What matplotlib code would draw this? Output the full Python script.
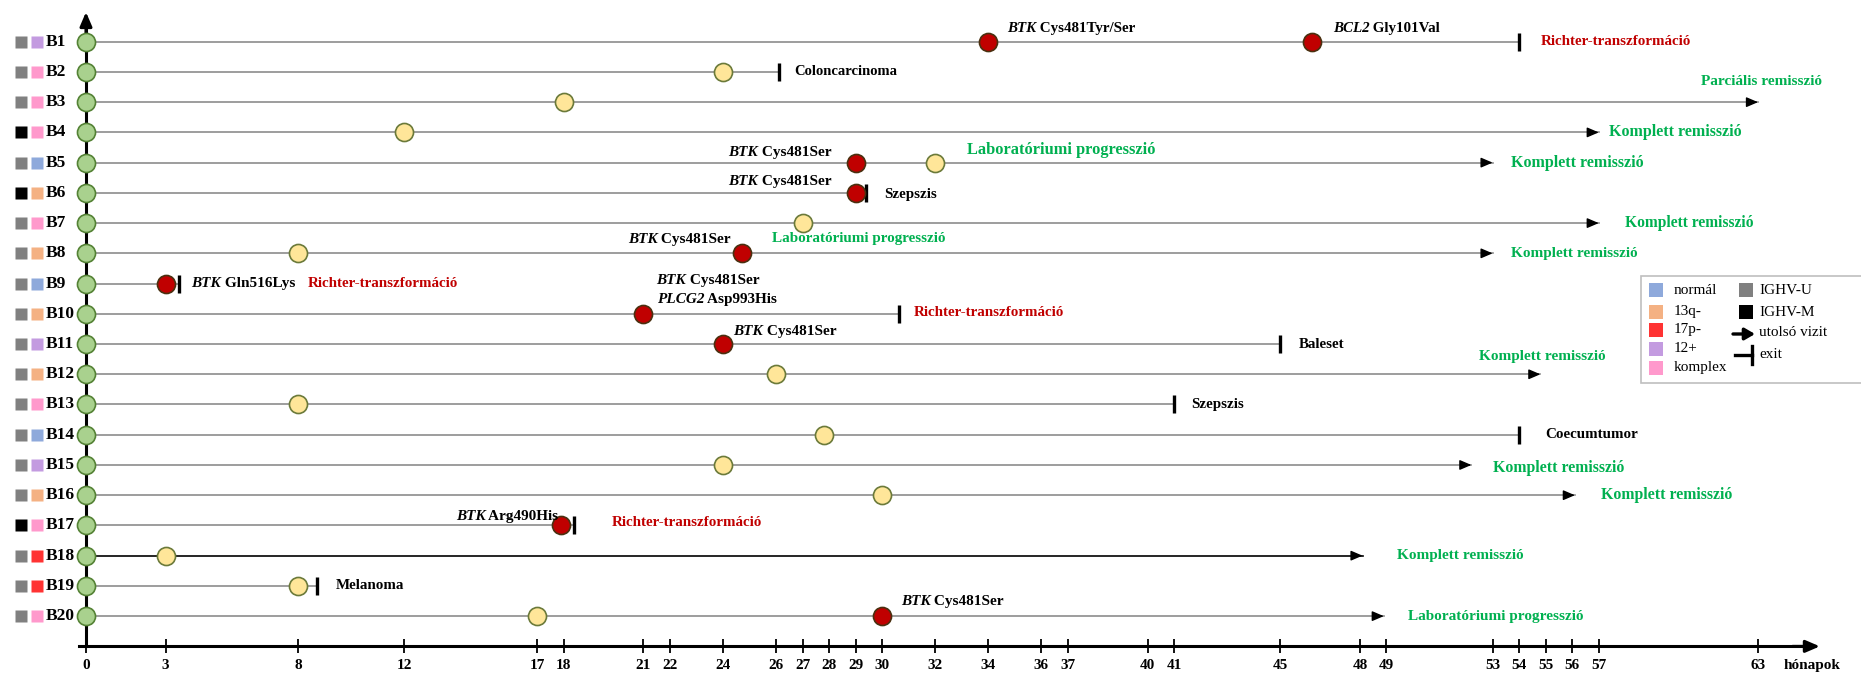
import matplotlib
matplotlib.use('Agg')
import matplotlib.pyplot as plt
from matplotlib.patches import Rectangle

plt.rcParams['font.family'] = ['Liberation Serif', 'DejaVu Serif']

# betegek, IGHV státusz és citogenetika
patients = ['B%d' % i for i in range(1, 21)]
ighv = ['U', 'U', 'U', 'M', 'U', 'M', 'U', 'U', 'U', 'U',
        'U', 'U', 'U', 'U', 'U', 'U', 'M', 'U', 'U', 'U']
cyto = ['12+', 'komplex', 'komplex', 'komplex', 'normál', '13q-', 'komplex', '13q-', 'normál', '13q-',
        '12+', '13q-', 'komplex', 'normál', '12+', '13q-', 'komplex', '17p-', '17p-', 'komplex']

# követés vége (hónap) és típusa
end_month = [54, 26.1, 63, 57, 53, 29.4, 57, 53, 3.5, 30.65,
             45, 54.8, 41, 54, 52.2, 56.1, 18.4, 48.1, 8.7, 48.9]
end_type = ['exit', 'exit', 'vizit', 'vizit', 'vizit', 'exit', 'vizit', 'vizit', 'exit', 'exit',
            'exit', 'vizit', 'exit', 'exit', 'vizit', 'vizit', 'exit', 'vizit', 'exit', 'vizit']

# sárga pontok (beteg sorszáma, hónap)
yellow_rows = [2, 3, 4, 5, 7, 8, 12, 13, 14, 15, 16, 18, 19, 20]
yellow_month = [24, 18, 12, 32, 27, 8, 26, 8, 27.8, 24, 30, 3, 8, 17]

# mutációk megjelenése (piros pontok)
mut_rows = [1, 1, 5, 6, 8, 9, 10, 11, 17, 20]
mut_month = [34, 46.2, 29, 29, 24.7, 3, 21, 24, 17.9, 30]

x_ticks = [0, 3, 8, 12, 17, 18, 21, 22, 24, 26, 27, 28, 29, 30, 32, 34, 36, 37,
           40, 41, 45, 48, 49, 53, 54, 55, 56, 57, 63]

cyto_colors = {'normál': '#8EA9DB', '13q-': '#F4B183', '17p-': '#FF3333',
               '12+': '#C39BE0', 'komplex': '#FF99CC'}
ighv_colors = {'U': '#808080', 'M': '#000000'}
GREEN = '#00B050'
RED = '#C00000'

# feliratok: (sor, hónap, függőleges eltolás, gén, szöveg, szín, igazítás, méret)
notes = [
    (1, 34.7, -0.45, 'BTK', ' Cys481Tyr/Ser', 'black', 'left', 10.8),
    (1, 46.98, -0.45, 'BCL2', ' Gly101Val', 'black', 'left', 10.8),
    (1, 54.8, 0, '', 'Richter-transzformáció', RED, 'left', 10.8),
    (2, 26.67, 0, '', 'Coloncarcinoma', 'black', 'left', 10.5),
    (3, 60.85, -0.69, '', 'Parciális remisszió', GREEN, 'left', 11),
    (4, 57.4, 0, '', 'Komplett remisszió', GREEN, 'left', 11.5),
    (5, 28.1, -0.35, 'BTK', ' Cys481Ser', 'black', 'right', 11),
    (5, 33.2, -0.43, '', 'Laboratóriumi progresszió', GREEN, 'left', 11.8),
    (5, 53.7, 0, '', 'Komplett remisszió', GREEN, 'left', 11.5),
    (6, 28.1, -0.36, 'BTK', ' Cys481Ser', 'black', 'right', 11),
    (6, 30.07, 0.05, '', 'Szepszis', 'black', 'left', 10.8),
    (7, 58.0, 0, '', 'Komplett remisszió', GREEN, 'left', 11.2),
    (8, 24.3, -0.47, 'BTK', ' Cys481Ser', 'black', 'right', 11),
    (8, 25.86, -0.5, '', 'Laboratóriumi progresszió', GREEN, 'left', 10.9),
    (8, 53.7, 0, '', 'Komplett remisszió', GREEN, 'left', 11),
    (9, 3.98, 0, 'BTK', ' Gln516Lys', 'black', 'left', 11),
    (9, 8.37, 0, '', 'Richter-transzformáció', RED, 'left', 10.8),
    (10, 21.5, -1.1, 'BTK', ' Cys481Ser', 'black', 'left', 11),
    (10, 21.5, -0.47, 'PLCG2', ' Asp993His', 'black', 'left', 11),
    (10, 31.2, -0.05, '', 'Richter-transzformáció', RED, 'left', 10.8),
    (11, 24.4, -0.4, 'BTK', ' Cys481Ser', 'black', 'left', 11),
    (11, 45.7, 0, '', 'Baleset', 'black', 'left', 10.8),
    (12, 52.5, -0.58, '', 'Komplett remisszió', GREEN, 'left', 11),
    (13, 41.65, 0, '', 'Szepszis', 'black', 'left', 10.8),
    (14, 55.0, 0, '', 'Coecumtumor', 'black', 'left', 10.8),
    (15, 53.0, 0.1, '', 'Komplett remisszió', GREEN, 'left', 11.4),
    (16, 57.1, 0, '', 'Komplett remisszió', GREEN, 'left', 11.4),
    (17, 17.8, -0.3, 'BTK', ' Arg490His', 'black', 'right', 11),
    (17, 19.8, -0.1, '', 'Richter-transzformáció', RED, 'left', 10.8),
    (18, 49.4, 0, '', 'Komplett remisszió', GREEN, 'left', 11),
    (19, 9.4, 0, '', 'Melanoma', 'black', 'left', 10.8),
    (20, 30.7, -0.5, 'BTK', ' Cys481Ser', 'black', 'left', 11),
    (20, 49.8, 0, '', 'Laboratóriumi progresszió', GREEN, 'left', 11),
]

W, H = 1861, 676
fig = plt.figure(figsize=(W / 100, H / 100), dpi=100)
ax = fig.add_axes([0, 0, 1, 1])
ax.set_xlim(-3.24, 66.88)
ax.set_ylim(21.98, -0.379)
AXIS_ROW = 21.0
HEAD = '-|>,head_length=0.7,head_width=0.3'

# tengelyek
for s in ['top', 'right']:
    ax.spines[s].set_visible(False)
ax.spines['bottom'].set_position(('data', AXIS_ROW))
ax.spines['bottom'].set_bounds(-0.26, 64.8)
ax.spines['bottom'].set_linewidth(2.2)
ax.spines['left'].set_position(('data', 0))
ax.spines['left'].set_bounds(0.6, AXIS_ROW)
ax.spines['left'].set_linewidth(2.2)
ax.set_yticks([])
ax.set_xticks(x_ticks)
ax.tick_params(axis='x', direction='inout', length=9.5, width=1.3, pad=4,
               labelsize=11)
for lab in ax.get_xticklabels():
    lab.set_fontweight('bold')
ax.annotate('', xy=(65.33, AXIS_ROW), xytext=(64.3, AXIS_ROW),
            arrowprops=dict(arrowstyle=HEAD, lw=2.2, color='black',
                            shrinkA=0, shrinkB=0, mutation_scale=12))
ax.annotate('', xy=(0, 0.02), xytext=(0, 0.8),
            arrowprops=dict(arrowstyle=HEAD, lw=2.2, color='black',
                            shrinkA=0, shrinkB=0, mutation_scale=12))
ax.text(65.03, 21.63, 'hónapok', ha='center', va='center', fontsize=11,
        fontweight='bold')

# követési vonalak
for i, p in enumerate(patients):
    row = i + 1
    lc = 'black' if p == 'B18' else '#8C8C8C'
    ax.plot([0, end_month[i]], [row, row], color=lc, lw=1.2, zorder=2)
    if end_type[i] == 'vizit':
        ax.annotate('', xy=(end_month[i], row), xytext=(end_month[i] - 0.4, row),
                    arrowprops=dict(arrowstyle=HEAD, lw=1.0, color='black',
                                    shrinkA=0, shrinkB=0, mutation_scale=10),
                    zorder=3)
    else:
        ax.plot(end_month[i], row, marker='|', markersize=13, mew=2.4,
                color='black', zorder=3)

    # bal oldali jelölők
    ax.plot(-2.45, row, marker='s', markersize=8.8, color=ighv_colors[ighv[i]],
            mec='none', clip_on=False)
    ax.plot(-1.85, row, marker='s', markersize=8.8, color=cyto_colors[cyto[i]],
            mec='none', clip_on=False)
    ax.text(-1.52, row, p, ha='left', va='center', fontsize=12.5,
            fontweight='bold')

rows = list(range(1, len(patients) + 1))
ax.plot([0] * len(rows), rows, 'o', markersize=13, mfc='#A9D18E', mec='#548235',
        mew=1.2, linestyle='none', zorder=5)
ax.plot(yellow_month, yellow_rows, 'o', markersize=13, mfc='#FFE699',
        mec='#6B7A3A', mew=1.2, linestyle='none', zorder=5)
ax.plot(mut_month, mut_rows, 'o', markersize=13, mfc='#C00000',
        mec='#4A3010', mew=1.2, linestyle='none', zorder=5)

# feliratok (dőlt génnév + álló szöveg)
for row, x, dy, gene, txt, col, ha, fs in notes:
    y = row + dy
    if not gene:
        ax.text(x, y, txt, ha=ha, va='center', fontsize=fs, fontweight='bold',
                color=col, zorder=6)
    elif ha == 'left':
        t = ax.text(x, y, gene, ha='left', va='center', fontsize=fs,
                    fontweight='bold', fontstyle='italic', color=col, zorder=6)
        ax.annotate(txt, xy=(1, 0), xycoords=t, ha='left', va='bottom',
                    fontsize=fs, fontweight='bold', color=col, zorder=6)
    else:
        t = ax.text(x, y, txt, ha='right', va='center', fontsize=fs,
                    fontweight='bold', color=col, zorder=6)
        ax.annotate(gene, xy=(0, 0), xycoords=t, ha='right', va='bottom',
                    fontsize=fs, fontweight='bold', fontstyle='italic',
                    color=col, zorder=6)

# jelmagyarázat pixel-koordinátákban
lg = fig.add_axes([0, 0, 1, 1])
lg.set_xlim(0, W)
lg.set_ylim(H, 0)
lg.axis('off')
lg.add_patch(Rectangle((1641, 276), 240, 107, fc='white', ec='#BFBFBF', lw=1.2))
cyto_order = ['normál', '13q-', '17p-', '12+', 'komplex']
cyto_y = [290, 312, 330, 349, 368]
for name, yy in zip(cyto_order, cyto_y):
    lg.add_patch(Rectangle((1649, yy - 7), 14, 14, fc=cyto_colors[name], ec='none'))
    lg.text(1674, yy, name, ha='left', va='center', fontsize=11)
for key, lab, yy in [('U', 'IGHV-U', 290), ('M', 'IGHV-M', 312)]:
    lg.add_patch(Rectangle((1739, yy - 7), 14, 14, fc=ighv_colors[key], ec='none'))
    lg.text(1759, yy, lab, ha='left', va='center', fontsize=11)
lg.annotate('', xy=(1755, 334), xytext=(1733, 334),
            arrowprops=dict(arrowstyle='-|>,head_length=0.6,head_width=0.35',
                            lw=2.4, color='black', shrinkA=0, shrinkB=0,
                            mutation_scale=10))
lg.text(1759, 333, 'utolsó vizit', ha='left', va='center', fontsize=11)
lg.plot([1735, 1752], [355, 355], color='black', lw=2.4)
lg.plot([1752, 1752], [346, 364], color='black', lw=2.4)
lg.text(1759, 354, 'exit', ha='left', va='center', fontsize=11)

fig.savefig('out.png', dpi=100)
